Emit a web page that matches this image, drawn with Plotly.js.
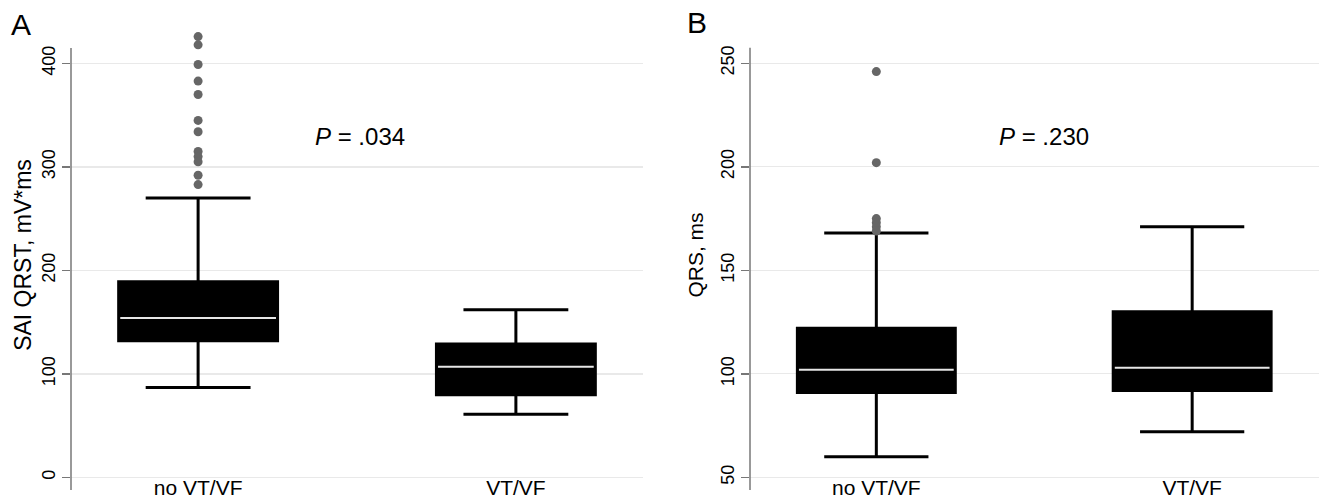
<!DOCTYPE html>
<html>
<head>
<meta charset="utf-8">
<script src="https://cdn.plot.ly/plotly-3.0.1.min.js"></script>
<style>html,body{margin:0;padding:0;background:#fff;}#chart{width:1320px;height:502px;}</style>
</head>
<body>
<div id="chart"></div>
<script>
// ---- data ----
const groups = ["no VT/VF", "VT/VF"];

// Panel A: SAI QRST, mV*ms
const saiLowerFence = [87, 61];
const saiQ1 = [132, 80];
const saiMedian = [154, 107];
const saiQ3 = [189, 129];
const saiUpperFence = [270, 162];
const saiOutliersNoVT = [426, 418, 399, 383, 370, 345, 334, 315, 310, 305, 292, 283];
const saiTicks = [0, 100, 200, 300, 400];

// Panel B: QRS, ms
const qrsLowerFence = [60, 72];
const qrsQ1 = [91, 92];
const qrsMedian = [102, 103];
const qrsQ3 = [122, 130];
const qrsUpperFence = [168, 171];
const qrsOutliersNoVT = [246, 202, 175, 173, 171, 169];
const qrsTicks = [50, 100, 150, 200, 250];

const pTextA = "<i>P</i> = .034";
const pTextB = "<i>P</i> = .230";

// ---- build ----
const xs = groups.map((g, i) => i);
const BOXW = 0.5;
const MEDW = 0.245;

function boxTrace(lf, q1, med, q3, uf, xa, ya) {
  return {
    type: 'box', x: xs, lowerfence: lf, q1: q1, median: med, q3: q3, upperfence: uf,
    xaxis: xa, yaxis: ya, boxpoints: false, width: BOXW, whiskerwidth: 0.66,
    fillcolor: '#000', line: {color: '#000', width: 3}, showlegend: false, hoverinfo: 'skip'
  };
}
function medianTrace(med, xa, ya) {
  const x = [], y = [];
  med.forEach((m, i) => { x.push(i - MEDW, i + MEDW, null); y.push(m, m, null); });
  return {type: 'scatter', mode: 'lines', x: x, y: y, xaxis: xa, yaxis: ya,
    line: {color: '#e6e6e6', width: 2}, showlegend: false, hoverinfo: 'skip'};
}
function outlierTrace(vals, xa, ya) {
  return {type: 'scatter', mode: 'markers', x: vals.map(() => 0), y: vals, xaxis: xa, yaxis: ya,
    marker: {color: '#666', size: 9}, showlegend: false, hoverinfo: 'skip'};
}

const data = [
  boxTrace(saiLowerFence, saiQ1, saiMedian, saiQ3, saiUpperFence, 'x', 'y'),
  medianTrace(saiMedian, 'x', 'y'),
  outlierTrace(saiOutliersNoVT, 'x', 'y'),
  boxTrace(qrsLowerFence, qrsQ1, qrsMedian, qrsQ3, qrsUpperFence, 'x2', 'y2'),
  medianTrace(qrsMedian, 'x2', 'y2'),
  outlierTrace(qrsOutliersNoVT, 'x2', 'y2')
];

const MT = 20, MB = 12, H = 502;
const PH = H - MT - MB;
const font = {family: 'Liberation Sans, Arial, sans-serif', color: '#000'};
function xaxisDef(domain) {
  return {domain: domain, range: [-0.4, 1.4], tickvals: xs, ticktext: groups,
    showgrid: false, zeroline: false, showline: false, ticks: '',
    anchor: 'free', position: 17 / PH, tickfont: {size: 21, color: '#000'}};
}
function yaxisDef(range, tickvals, title, anchor, standoff, tsize) {
  return {range: range, tickvals: tickvals, anchor: anchor, domain: [0, 1],
    showline: false, ticks: 'outside', ticklen: 8,
    tickcolor: '#777', tickwidth: 1.5, tickangle: -90, tickfont: {size: 18, color: '#000'},
    showgrid: true, gridcolor: '#e9e9e9', gridwidth: 1.2, zeroline: false,
    title: {text: title, font: {size: tsize, color: '#000'}, standoff: standoff}};
}
// axis line spans (data units), like the reference's shortened axis lines
function axisLine(xref, yref, y0, y1) {
  return {type: 'line', xref: xref + ' domain', yref: yref, x0: 0, x1: 0, y0: y0, y1: y1,
    line: {color: '#777', width: 1.5}};
}

const layout = {
  width: 1320, height: H, paper_bgcolor: '#fff', plot_bgcolor: '#fff',
  margin: {l: 0, r: 0, t: MT, b: MB}, font: font, showlegend: false,
  xaxis: xaxisDef([71 / 1320, 643 / 1320]),
  yaxis: yaxisDef([-12.1, 442], saiTicks, 'SAI QRST, mV*ms', 'x', 0, 23),
  xaxis2: xaxisDef([750 / 1320, 1318.5 / 1320]),
  yaxis2: yaxisDef([43.9, 270.9], qrsTicks, 'QRS, ms', 'x2', 8, 21),
  shapes: [axisLine('x', 'y', -12.1, 415), axisLine('x2', 'y2', 43.9, 257.5)],
  annotations: [
    {text: pTextA, xref: 'x', yref: 'y', x: 0.51, y: 329, showarrow: false, font: {size: 24}},
    {text: pTextB, xref: 'x2', yref: 'y2', x: 0.53, y: 214.5, showarrow: false, font: {size: 24}},
    {text: 'A', xref: 'paper', yref: 'paper', x: 21 / 1320, y: (H - MB - 25) / PH,
      xanchor: 'center', yanchor: 'middle', showarrow: false, font: {size: 30}},
    {text: 'B', xref: 'paper', yref: 'paper', x: 697 / 1320, y: (H - MB - 23) / PH,
      xanchor: 'center', yanchor: 'middle', showarrow: false, font: {size: 30}}
  ]
};

Plotly.newPlot('chart', data, layout, {staticPlot: true, displayModeBar: false});
</script>
</body>
</html>
